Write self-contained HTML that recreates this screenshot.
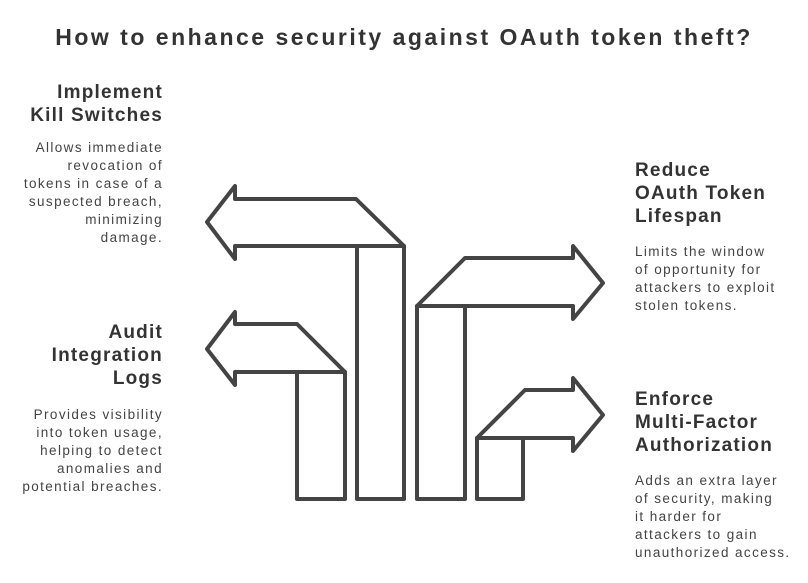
<!DOCTYPE html>
<html><head><meta charset="utf-8"><style>
body{margin:0;width:808px;height:583px;background:#fff;position:relative;font-family:"Liberation Sans",sans-serif;color:#333;overflow:hidden}
.t{position:absolute;white-space:nowrap}
h1{position:absolute;top:24px;left:0;width:808px;text-align:center;margin:0;font-size:23px;font-weight:bold;color:#333;letter-spacing:2.5px}
.h{font-weight:bold;font-size:19px;line-height:23px;letter-spacing:1.2px}
.b{font-size:13.5px;line-height:18px;color:#444;letter-spacing:1.4px}
.r{text-align:right}
</style></head><body>
<h1>How to enhance security against OAuth token theft?</h1>
<div class="t h r" style="right:645px;top:81px">Implement<br>Kill Switches</div>
<div class="t b r" style="right:645px;top:139px">Allows immediate<br>revocation of<br>tokens in case of a<br>suspected breach,<br>minimizing<br>damage.</div>
<div class="t h r" style="right:645px;top:321px">Audit<br>Integration<br>Logs</div>
<div class="t b r" style="right:645px;top:406px">Provides visibility<br>into token usage,<br>helping to detect<br>anomalies and<br>potential breaches.</div>
<div class="t h" style="left:635px;top:159px">Reduce<br>OAuth Token<br>Lifespan</div>
<div class="t b" style="left:635px;top:243px">Limits the window<br>of opportunity for<br>attackers to exploit<br>stolen tokens.</div>
<div class="t h" style="left:635px;top:388px">Enforce<br>Multi-Factor<br>Authorization</div>
<div class="t b" style="left:635px;top:472px">Adds an extra layer<br>of security, making<br>it harder for<br>attackers to gain<br>unauthorized access.</div>
<svg width="808" height="583" style="position:absolute;left:0;top:0" fill="none" stroke="#444" stroke-width="4" stroke-linejoin="round">
<path d="M207 222 L235 186 L235 199 L356 199 L404 246 L235 246 L235 259 Z"/>
<rect x="357" y="246" width="47" height="253"/>
<path d="M207 349 L235 312 L235 324 L297 324 L345 372 L235 372 L235 385 Z"/>
<rect x="297" y="372" width="48" height="127"/>
<path d="M603 283 L573 246 L573 258 L465 258 L417 306 L573 306 L573 319 Z"/>
<rect x="417" y="306" width="48" height="193"/>
<path d="M603 415 L573 378 L573 390 L525 390 L477 438 L573 438 L573 451 Z"/>
<rect x="477" y="438" width="46" height="61"/>
</svg>
</body></html>
